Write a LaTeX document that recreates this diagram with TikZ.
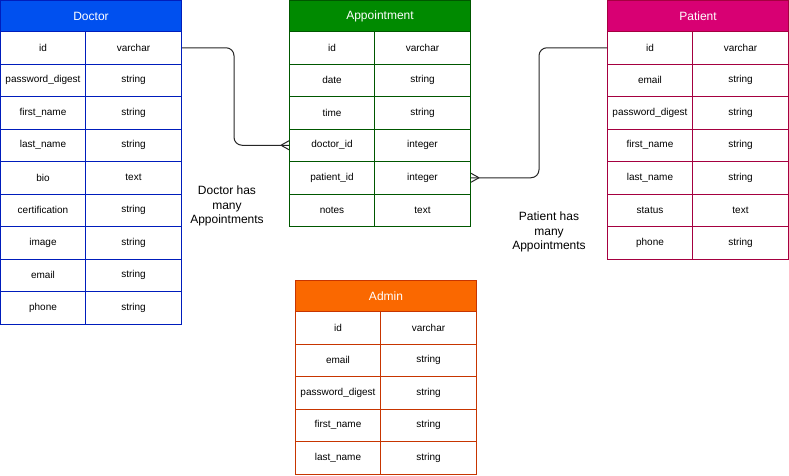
\documentclass[tikz,border=0pt]{standalone}
\usepackage{fontspec}
\setmainfont{Liberation Sans}
\usetikzlibrary{calc}
\definecolor{docfill}{HTML}{0050EF}
\definecolor{docline}{HTML}{001DBC}
\definecolor{aptfill}{HTML}{008A00}
\definecolor{aptline}{HTML}{005700}
\definecolor{patfill}{HTML}{D80073}
\definecolor{patline}{HTML}{A50040}
\definecolor{admfill}{HTML}{FA6800}
\definecolor{admline}{HTML}{C73500}
\tikzstyle{head} = [rectangle, minimum width=135.75pt, minimum height=23.25pt, inner sep=0pt, anchor=north west, text=white, line width=0.75pt, font=\fontsize{9}{11}\selectfont]
\tikzstyle{keycell} = [rectangle, minimum width=63.75pt, minimum height=24.375pt, inner sep=0pt, anchor=north west, line width=0.75pt, font=\fontsize{7.5}{9}\selectfont]
\tikzstyle{typecell} = [rectangle, minimum width=72pt, minimum height=24.375pt, inner sep=0pt, anchor=north west, line width=0.75pt, font=\fontsize{7.5}{9}\selectfont]
\tikzstyle{note} = [align=center, font=\fontsize{9}{11}\selectfont]
\tikzstyle{conn} = [line width=0.75pt, draw=black!85]
\tikzset{manyend/.pic={\draw[conn] (-8,0) -- (0,4.5) (-8,0) -- (0,-4.5);}}

\begin{document}
\begin{tikzpicture}[x=0.75pt, y=-0.75pt]
    \useasboundingbox (0,0) rectangle (789,475);
    % Doctor
    \node [head, fill=docfill, draw=docline] at (0,0) (doctor) {Doctor};
    \node [keycell, draw=docline] at (0,31) (doc1) {id};
    \node [typecell, draw=docline] at (85,31) (doc1t) {varchar};
    \node [keycell, draw=docline] at (0,63.5) (doc2) {password\_digest};
    \node [typecell, draw=docline] at (85,63.5) (doc2t) {string};
    \node [keycell, draw=docline] at (0,96) (doc3) {first\_name};
    \node [typecell, draw=docline] at (85,96) (doc3t) {string};
    \node [keycell, draw=docline] at (0,128.5) (doc4) {last\_name};
    \node [typecell, draw=docline] at (85,128.5) (doc4t) {string};
    \node [keycell, draw=docline] at (0,161) (doc5) {bio};
    \node [typecell, draw=docline] at (85,161) (doc5t) {text};
    \node [keycell, draw=docline] at (0,193.5) (doc6) {certification};
    \node [typecell, draw=docline] at (85,193.5) (doc6t) {string};
    \node [keycell, draw=docline] at (0,226) (doc7) {image};
    \node [typecell, draw=docline] at (85,226) (doc7t) {string};
    \node [keycell, draw=docline] at (0,258.5) (doc8) {email};
    \node [typecell, draw=docline] at (85,258.5) (doc8t) {string};
    \node [keycell, draw=docline] at (0,291) (doc9) {phone};
    \node [typecell, draw=docline] at (85,291) (doc9t) {string};
    % Appointment
    \node [head, fill=aptfill, draw=aptline] at (289,0) (appointment) {Appointment};
    \node [keycell, draw=aptline] at (289,31) (apt1) {id};
    \node [typecell, draw=aptline] at (374,31) (apt1t) {varchar};
    \node [keycell, draw=aptline] at (289,63.5) (apt2) {date};
    \node [typecell, draw=aptline] at (374,63.5) (apt2t) {string};
    \node [keycell, draw=aptline] at (289,96) (apt3) {time};
    \node [typecell, draw=aptline] at (374,96) (apt3t) {string};
    \node [keycell, draw=aptline] at (289,128.5) (apt4) {doctor\_id};
    \node [typecell, draw=aptline] at (374,128.5) (apt4t) {integer};
    \node [keycell, draw=aptline] at (289,161) (apt5) {patient\_id};
    \node [typecell, draw=aptline] at (374,161) (apt5t) {integer};
    \node [keycell, draw=aptline] at (289,193.5) (apt6) {notes};
    \node [typecell, draw=aptline] at (374,193.5) (apt6t) {text};
    % Patient
    \node [head, fill=patfill, draw=patline] at (607,0) (patient) {Patient};
    \node [keycell, draw=patline] at (607,31) (pat1) {id};
    \node [typecell, draw=patline] at (692,31) (pat1t) {varchar};
    \node [keycell, draw=patline] at (607,63.5) (pat2) {email};
    \node [typecell, draw=patline] at (692,63.5) (pat2t) {string};
    \node [keycell, draw=patline] at (607,96) (pat3) {password\_digest};
    \node [typecell, draw=patline] at (692,96) (pat3t) {string};
    \node [keycell, draw=patline] at (607,128.5) (pat4) {first\_name};
    \node [typecell, draw=patline] at (692,128.5) (pat4t) {string};
    \node [keycell, draw=patline] at (607,161) (pat5) {last\_name};
    \node [typecell, draw=patline] at (692,161) (pat5t) {string};
    \node [keycell, draw=patline] at (607,193.5) (pat6) {status};
    \node [typecell, draw=patline] at (692,193.5) (pat6t) {text};
    \node [keycell, draw=patline] at (607,226) (pat7) {phone};
    \node [typecell, draw=patline] at (692,226) (pat7t) {string};
    % Admin
    \node [head, fill=admfill, draw=admline] at (295,280) (admin) {Admin};
    \node [keycell, draw=admline] at (295,311) (adm1) {id};
    \node [typecell, draw=admline] at (380,311) (adm1t) {varchar};
    \node [keycell, draw=admline] at (295,343.5) (adm2) {email};
    \node [typecell, draw=admline] at (380,343.5) (adm2t) {string};
    \node [keycell, draw=admline] at (295,376) (adm3) {password\_digest};
    \node [typecell, draw=admline] at (380,376) (adm3t) {string};
    \node [keycell, draw=admline] at (295,408.5) (adm4) {first\_name};
    \node [typecell, draw=admline] at (380,408.5) (adm4t) {string};
    \node [keycell, draw=admline] at (295,441) (adm5) {last\_name};
    \node [typecell, draw=admline] at (380,441) (adm5t) {string};
    % relations
    \coordinate (docbend) at ($(doc1t.east)+(52,0)$);
    \coordinate (patbend) at ($(pat1.west)+(-68,0)$);
    \draw [conn, rounded corners=6pt] (doc1t.east) -- (docbend) |- (apt4.west);
    \draw [conn, rounded corners=6pt] (pat1.west) -- (patbend) |- (apt5t.east);
    \pic at (apt4.west) {manyend};
    \pic [rotate=180] at (apt5t.east) {manyend};
    \node [note] at (227,206) (docnote) {Doctor has\\many\\Appointments};
    \node [note] at (549,232) (patnote) {Patient has\\many\\Appointments};
\end{tikzpicture}
\end{document}
